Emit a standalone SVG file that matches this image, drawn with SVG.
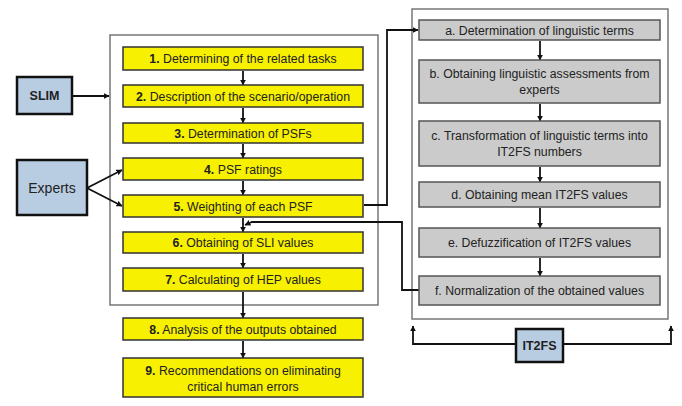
<svg xmlns="http://www.w3.org/2000/svg" width="682" height="406" viewBox="0 0 682 406">
  <defs>
    <marker id="ah" viewBox="0 0 10 10" refX="9" refY="5" markerWidth="6" markerHeight="6" orient="auto-start-reverse" markerUnits="userSpaceOnUse">
      <path d="M0,0 L10,5 L0,10 z" fill="#111"/>
    </marker>
    <style>
      .frame{fill:#fff;stroke:#777;stroke-width:1.5}
      .step{fill:#f7f000;stroke:#333;stroke-width:1.5}
      .sub{fill:#cbcbcb;stroke:#555;stroke-width:1.5}
      .src{fill:#b9cde2;stroke:#111;stroke-width:2.5}
      .t{font-family:"Liberation Sans",Arial,sans-serif;font-size:12.3px;fill:#222;text-anchor:middle}
      .tb{font-family:"Liberation Sans",Arial,sans-serif;font-size:12.5px;font-weight:bold;fill:#222;text-anchor:middle}
      .c{fill:none;stroke:#111;stroke-width:1.8}
    </style>
  </defs>
  <rect width="682" height="406" fill="#fff"/>

  <!-- frames -->
  <rect class="frame" x="110" y="35" width="268" height="270"/>
  <rect class="frame" x="412" y="9" width="256" height="310"/>

  <!-- connectors -->
  <g id="connectors">
    <line class="c" x1="72" y1="96" x2="109" y2="96" marker-end="url(#ah)"/>
    <line class="c" x1="87" y1="188" x2="122" y2="170" marker-end="url(#ah)"/>
    <line class="c" x1="87" y1="188" x2="122" y2="206" marker-end="url(#ah)"/>
    <line class="c" x1="243" y1="71" x2="243" y2="85" marker-end="url(#ah)"/>
    <line class="c" x1="243" y1="108" x2="243" y2="123" marker-end="url(#ah)"/>
    <line class="c" x1="243" y1="144" x2="243" y2="158" marker-end="url(#ah)"/>
    <line class="c" x1="243" y1="181" x2="243" y2="195" marker-end="url(#ah)"/>
    <line class="c" x1="243" y1="218" x2="243" y2="232" marker-end="url(#ah)"/>
    <line class="c" x1="243" y1="254" x2="243" y2="268" marker-end="url(#ah)"/>
    <line class="c" x1="243" y1="292" x2="243" y2="318" marker-end="url(#ah)"/>
    <line class="c" x1="243" y1="341" x2="243" y2="358" marker-end="url(#ah)"/>
    <polyline class="c" points="364,205 387,205 387,30 418,30" marker-end="url(#ah)"/>
    <polyline class="c" points="419,290 402,290 402,222 252,222 245,225" marker-end="url(#ah)"/>
    <line class="c" x1="540" y1="41" x2="540" y2="60" marker-end="url(#ah)"/>
    <line class="c" x1="540" y1="104" x2="540" y2="121" marker-end="url(#ah)"/>
    <line class="c" x1="540" y1="167" x2="540" y2="182" marker-end="url(#ah)"/>
    <line class="c" x1="540" y1="208" x2="540" y2="228" marker-end="url(#ah)"/>
    <line class="c" x1="540" y1="258" x2="540" y2="276" marker-end="url(#ah)"/>
    <polyline class="c" points="516,344 413,344 413,326" marker-end="url(#ah)"/>
    <polyline class="c" points="563,344 671,344 671,326" marker-end="url(#ah)"/>
  </g>

  <!-- sources -->
  <g id="slim"><rect class="src" x="17" y="77" width="55" height="37"/><text class="tb" x="44.5" y="100">SLIM</text></g>
  <g id="experts"><rect class="src" x="17" y="160" width="70" height="55"/><text class="t" x="52" y="192.5" style="font-size:14px">Experts</text></g>
  <g id="it2fs"><rect class="src" x="516" y="329" width="47" height="33"/><text class="tb" x="539.5" y="350">IT2FS</text></g>

  <!-- main steps -->
  <g id="s1"><rect class="step" x="123" y="47" width="240" height="23"/><text class="t" x="243" y="63"><tspan font-weight="bold">1.</tspan> Determining of the related tasks</text></g>
  <g id="s2"><rect class="step" x="123" y="85" width="240" height="22"/><text class="t" x="243" y="100.5"><tspan font-weight="bold">2.</tspan> Description of the scenario/operation</text></g>
  <g id="s3"><rect class="step" x="123" y="123" width="240" height="20"/><text class="t" x="243" y="137.5"><tspan font-weight="bold">3.</tspan> Determination of PSFs</text></g>
  <g id="s4"><rect class="step" x="123" y="158" width="240" height="22"/><text class="t" x="243" y="173.5"><tspan font-weight="bold">4.</tspan> PSF ratings</text></g>
  <g id="s5"><rect class="step" x="123" y="195" width="240" height="22"/><text class="t" x="243" y="210.5"><tspan font-weight="bold">5.</tspan> Weighting of each PSF</text></g>
  <g id="s6"><rect class="step" x="123" y="232" width="240" height="21"/><text class="t" x="243" y="247"><tspan font-weight="bold">6.</tspan> Obtaining of SLI values</text></g>
  <g id="s7"><rect class="step" x="123" y="268" width="240" height="23"/><text class="t" x="243" y="284"><tspan font-weight="bold">7.</tspan> Calculating of HEP values</text></g>
  <g id="s8"><rect class="step" x="123" y="318" width="240" height="22"/><text class="t" x="243" y="333.5"><tspan font-weight="bold">8.</tspan> Analysis of the outputs obtained</text></g>
  <g id="s9"><rect class="step" x="123" y="358" width="240" height="39"/><text class="t" x="243" y="375"><tspan font-weight="bold">9.</tspan> Recommendations on eliminating</text><text class="t" x="243" y="390.5">critical human errors</text></g>

  <!-- IT2FS sub-steps -->
  <g id="a"><rect class="sub" x="419" y="20" width="241" height="20"/><text class="t" x="539.5" y="34.5">a. Determination of linguistic terms</text></g>
  <g id="b"><rect class="sub" x="419" y="60" width="241" height="43"/><text class="t" x="539.5" y="78">b. Obtaining linguistic assessments from</text><text class="t" x="539.5" y="94">experts</text></g>
  <g id="c"><rect class="sub" x="419" y="121" width="241" height="45"/><text class="t" x="539.5" y="140">c. Transformation of linguistic terms into</text><text class="t" x="539.5" y="156">IT2FS numbers</text></g>
  <g id="d"><rect class="sub" x="419" y="182" width="241" height="25"/><text class="t" x="539.5" y="199">d. Obtaining mean IT2FS values</text></g>
  <g id="e"><rect class="sub" x="419" y="228" width="241" height="29"/><text class="t" x="539.5" y="247">e. Defuzzification of IT2FS values</text></g>
  <g id="f"><rect class="sub" x="419" y="276" width="241" height="29"/><text class="t" x="539.5" y="295">f. Normalization of the obtained values</text></g>
</svg>
